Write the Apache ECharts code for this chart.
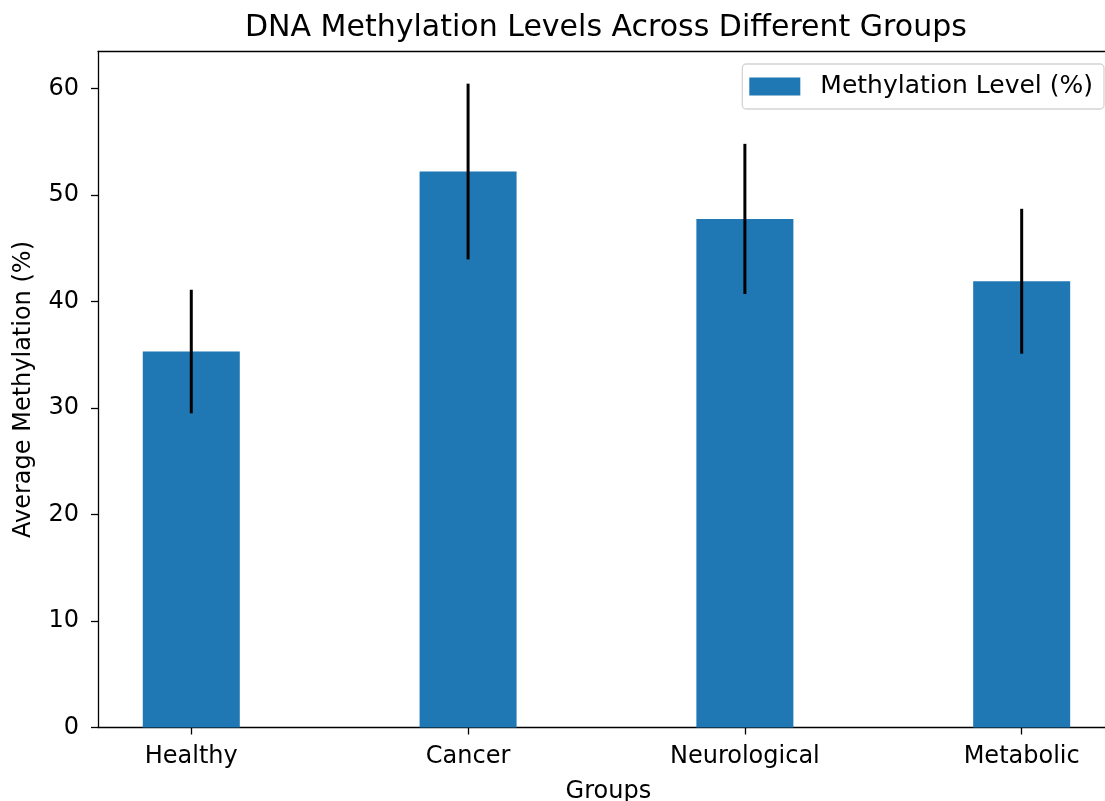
<!DOCTYPE html>
<html>
<head>
<meta charset="utf-8">
<script src="https://cdn.jsdelivr.net/npm/echarts@6/dist/echarts.min.js"></script>
<style>
html,body{margin:0;padding:0;background:#fff;overflow:hidden;}
#chart{width:1105px;height:801px;}
</style>
</head>
<body>
<div id="chart"></div>
<script>
const categories = ['Healthy', 'Cancer', 'Neurological', 'Metabolic'];
const methylation = [35.3, 52.2, 47.75, 41.9];
const errors = [5.8, 8.25, 7.05, 6.8];
const yTicks = [0, 10, 20, 30, 40, 50, 60];
const xTicks = [0, 1, 2, 3];

const font = 'DejaVu Sans';
const chart = echarts.init(document.getElementById('chart'), null, {renderer: 'canvas'});

const barData = methylation.map((v, i) => [i, v]);
const errData = methylation.map((v, i) => [i, v - errors[i], v + errors[i]]);

chart.setOption({
  animation: false,
  backgroundColor: '#ffffff',
  title: {
    text: 'DNA Methylation Levels Across Different Groups',
    left: 245, top: 13.5, padding: 0,
    textStyle: {fontFamily: font, fontSize: 30, fontWeight: 'normal', color: '#000'}
  },
  legend: {
    right: 1, top: 64,
    data: ['Methylation Level (%)'],
    icon: 'rect',
    itemWidth: 51, itemHeight: 18,
    padding: [10, 11, 10, 7],
    borderColor: '#d4d4d4', borderWidth: 1.3, borderRadius: 4,
    backgroundColor: 'rgba(255,255,255,0.8)',
    textStyle: {fontFamily: font, fontSize: 25, color: '#000', padding: [0, 0, 0, 15], lineHeight: 24}
  },
  grid: {left: 98, top: 51.5, right: -13.7, bottom: 73.5, containLabel: false, outerBoundsMode: 'none'},
  xAxis: [{
    type: 'value', min: -0.337, max: 3.3505,
    position: 'bottom',
    name: 'Groups', nameLocation: 'middle', nameGap: 52.5,
    nameTextStyle: {fontFamily: font, fontSize: 24, color: '#000'},
    axisLine: {show: true, onZero: false, lineStyle: {color: '#000', width: 1.3}},
    axisTick: {show: true, length: 7, customValues: xTicks, lineStyle: {color: '#000', width: 1.3}},
    axisLabel: {
      customValues: xTicks, margin: 17.5,
      fontFamily: font, fontSize: 24, color: '#000',
      formatter: v => categories[Math.round(v)] || ''
    },
    splitLine: {show: false}
  }, {
    type: 'value', min: -0.337, max: 3.3505, position: 'top',
    axisLine: {show: true, onZero: false, lineStyle: {color: '#000', width: 1.3}},
    axisTick: {show: false}, axisLabel: {show: false}, splitLine: {show: false}
  }],
  yAxis: [{
    type: 'value', min: 0, max: 63.47,
    name: 'Average Methylation (%)', nameLocation: 'middle', nameGap: 62,
    nameTextStyle: {fontFamily: font, fontSize: 24, color: '#000'},
    axisLine: {show: true, onZero: false, lineStyle: {color: '#000', width: 1.3}},
    axisTick: {show: true, length: 7, customValues: yTicks, lineStyle: {color: '#000', width: 1.3}},
    axisLabel: {customValues: yTicks, margin: 19, fontFamily: font, fontSize: 24, color: '#000'},
    splitLine: {show: false}
  }, {
    type: 'value', min: 0, max: 63.47, position: 'right',
    axisLine: {show: true, onZero: false, lineStyle: {color: '#000', width: 1.3}},
    axisTick: {show: false}, axisLabel: {show: false}, splitLine: {show: false}
  }],
  series: [{
    name: 'Methylation Level (%)',
    type: 'bar',
    data: barData,
    barWidth: 97,
    itemStyle: {color: '#1f77b4'},
    z: 2
  }, {
    type: 'custom',
    data: errData,
    z: 5,
    renderItem: function (params, api) {
      const x = api.value(0);
      const lo = api.coord([x, api.value(1)]);
      const hi = api.coord([x, api.value(2)]);
      return {
        type: 'line',
        shape: {x1: lo[0], y1: lo[1], x2: hi[0], y2: hi[1]},
        style: {stroke: '#000', lineWidth: 3}
      };
    }
  }]
});
</script>
</body>
</html>
